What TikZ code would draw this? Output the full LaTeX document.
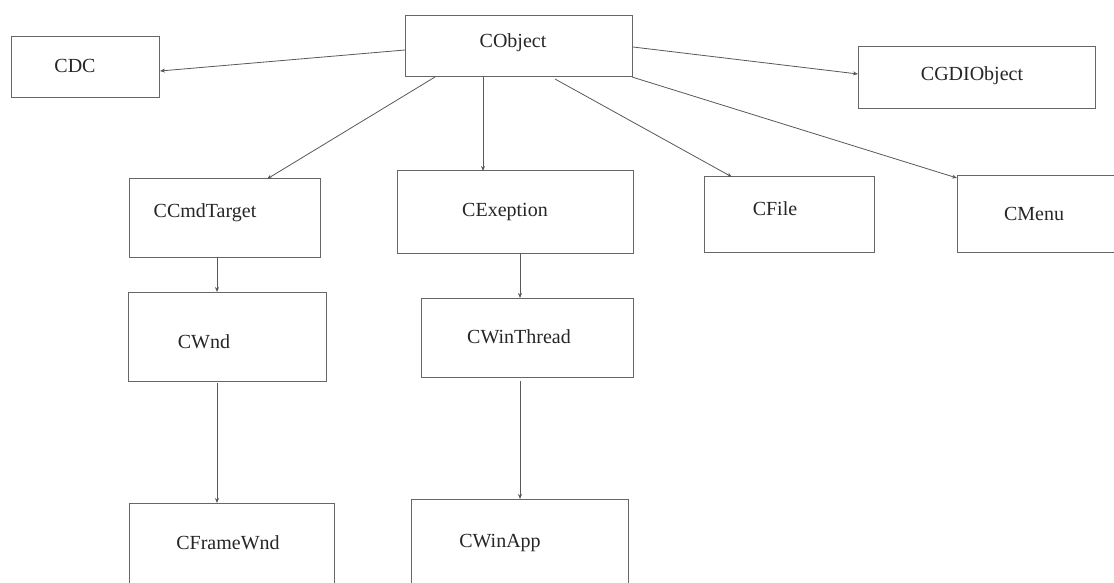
\documentclass[tikz,border=0pt]{standalone}
\usepackage{fontspec}
\setmainfont{Liberation Serif}
\usetikzlibrary{calc,arrows.meta}
\newcommand{\cbox}[5]{%
  \node[clsbox, minimum width={(#4-#2)*1pt}, minimum height={(#5-#3)*1pt}] (#1) at ({(#2+#4)/2},{(#3+#5)/2}) {};}
\begin{document}
\begin{tikzpicture}[x=1pt,y=-1pt,
  clsbox/.style={draw=black!60, line width=1pt, inner sep=0pt, outer sep=0pt, fill=none},
  lbl/.style={font=\fontsize{20}{24}\selectfont, text=black!85, inner sep=0pt},
  conn/.style={draw=black!65, line width=0.8pt, -{Stealth[length=5pt,width=4pt]}}]
\useasboundingbox (0,0) rectangle (1114,583);
\clip (0,0) rectangle (1114,583);
\fill[white] (0,0) rectangle (1114,583);
% boxes
\cbox{cdc}{11}{37}{159}{98}
\cbox{cobj}{405}{16}{632}{77}
\cbox{cgdi}{858}{47}{1095}{109}
\cbox{ccmd}{129}{179}{320}{257}
\cbox{cexc}{397}{171}{633}{253}
\cbox{cfile}{704}{177}{874}{252}
\cbox{cmenu}{957}{176}{1125}{252}
\cbox{cwnd}{128}{292}{326}{381}
\cbox{cthr}{421}{298}{633}{377}
\cbox{cframe}{129}{503}{334}{610}
\cbox{capp}{411}{499}{628}{610}
% labels
\node[lbl] (tcdc) at (75,66) {CDC};
\node[lbl] (tobj) at (513,43) {CObject};
\node[lbl] (tgdi) at (972,76) {CGDIObject};
\node[lbl] (tcmd) at (205,213) {CCmdTarget};
\node[lbl] (texc) at (505,212) {CExeption};
\node[lbl] (tfile) at (775,209) {CFile};
\node[lbl] (tmenu) at (1034,214) {CMenu};
\node[lbl] (twnd) at (204,342) {CWnd};
\node[lbl] (tthr) at (519,337) {CWinThread};
\node[lbl] (tframe) at (228,543) {CFrameWnd};
\node[lbl] (tapp) at (500,543) {CWinApp};
% connectors
\draw[conn] ($(cobj.north west)+(0,34)$) -- ($(cdc.north east)+(1,34)$);
\draw[conn] ($(cobj.north east)+(1,31)$) -- ($(cgdi.north west)+(0,27)$);
\draw[conn] (cobj.south east) -- ($(cmenu.north west)+(0,2)$);
\draw[conn] ($(cobj.south west)+(150,2)$) -- ($(cfile.north west)+(28,0)$);
\draw[conn] ($(cobj.south west)+(78,0)$) -- ($(cexc.north west)+(86,0)$);
\draw[conn] ($(cobj.south west)+(30,0)$) -- ($(ccmd.north west)+(138,0)$);
\draw[conn] ($(ccmd.south west)+(88,0)$) -- ($(cwnd.north west)+(89,0)$);
\draw[conn] ($(cexc.south west)+(123,0)$) -- ($(cthr.north west)+(99,0)$);
\draw[conn] ($(cwnd.south west)+(89,2)$) -- ($(cframe.north west)+(88,0)$);
\draw[conn] ($(cthr.south west)+(99,4)$) -- ($(capp.north west)+(109,0)$);
\end{tikzpicture}
\end{document}
